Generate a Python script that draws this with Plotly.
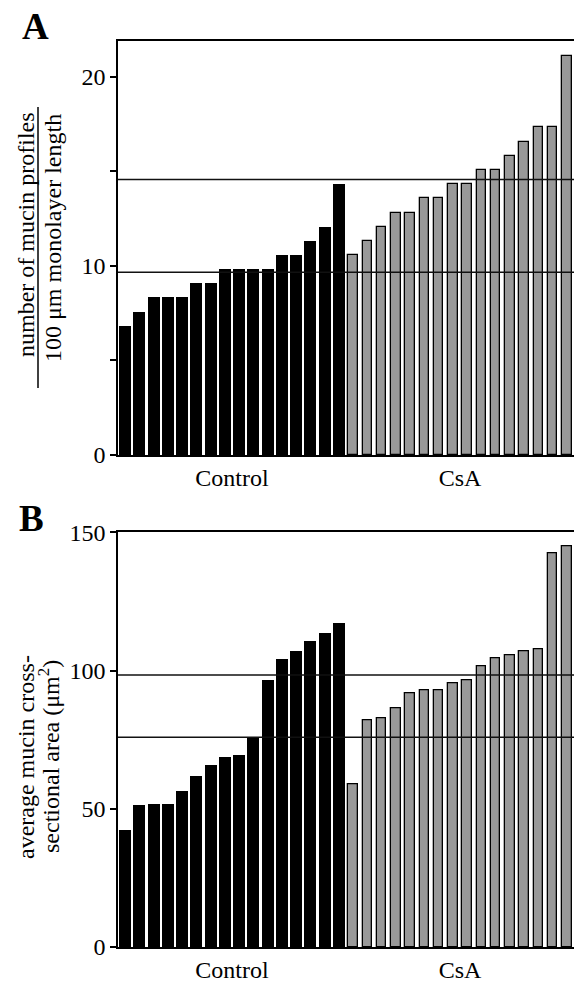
import plotly.graph_objects as go

# ---- data ----
groups = ["Control", "CsA"]

profiles_control = [6.84, 7.58, 8.34, 8.34, 8.34, 9.08, 9.08, 9.82, 9.82, 9.82, 9.82,
                    10.58, 10.58, 11.34, 12.08, 14.34]
profiles_csa = [10.58, 11.34, 12.08, 12.82, 12.82, 13.58, 13.58, 14.34, 14.34, 15.08,
                15.08, 15.84, 16.58, 17.34, 17.34, 21.13]
profiles_lines = [9.67, 14.58]

area_control = [42.2, 51.2, 51.6, 51.6, 56.3, 61.7, 65.7, 68.7, 69.5, 75.9, 96.6,
                103.9, 107.0, 110.5, 113.5, 117.1]
area_csa = [58.7, 81.9, 82.6, 86.5, 91.8, 93.0, 93.0, 95.5, 96.4, 101.6, 104.6,
            105.4, 107.0, 107.6, 142.4, 144.8]
area_lines = [75.9, 98.4]

profiles_ticks = [0, 10, 20]
profiles_minor_ticks = [5, 15]
area_ticks = [0, 50, 100, 150]

# ---- styling ----
FONT = "Liberation Serif"
BLACK = "#000000"
GRAY = "#999999"
W, H = 574, 983
ML, MR, MT, MB = 118, 0, 41, 36
PW, PH = W - ML - MR, H - MT - MB


def px_x(p):
    return (p - ML) / PW


def px_y(p):
    return (H - MB - p) / PH


nc = len(profiles_control)
x_ctrl = list(range(nc))
x_csa = list(range(nc, nc + len(profiles_csa)))
centers = [(nc - 1) / 2, nc + (len(profiles_csa) - 1) / 2]

fig = go.Figure()

for vals_c, vals_t, xa, ya in [(profiles_control, profiles_csa, "x", "y"),
                               (area_control, area_csa, "x2", "y2")]:
    fig.add_trace(go.Bar(x=x_ctrl, y=vals_c, width=0.84, xaxis=xa, yaxis=ya,
                         marker=dict(color=BLACK, line=dict(width=0)),
                         showlegend=False, hoverinfo="y"))
    fig.add_trace(go.Bar(x=x_csa, y=vals_t, width=0.68, xaxis=xa, yaxis=ya,
                         marker=dict(color=GRAY, line=dict(color=BLACK, width=1.3)),
                         showlegend=False, hoverinfo="y"))

xcommon = dict(range=[-0.5, nc + len(profiles_csa) - 0.5], showline=True, mirror=True,
               linecolor=BLACK, linewidth=1.5, ticks="", tickvals=centers,
               ticktext=groups, showgrid=False, zeroline=False,
               tickfont=dict(family=FONT, size=24, color=BLACK))
ycommon = dict(showline=True, linecolor=BLACK, linewidth=1.5, ticks="outside",
               ticklen=6, tickwidth=1.5, tickcolor=BLACK, showgrid=False,
               zeroline=False, tickfont=dict(family=FONT, size=24, color=BLACK))

dom_a = [px_y(455), 1.0]
dom_b = [0.0, px_y(532.3)]

fig.update_layout(
    width=W, height=H,
    margin=dict(l=ML, r=MR, t=MT, b=MB),
    paper_bgcolor="white", plot_bgcolor="white",
    bargap=0,
    xaxis=dict(domain=[0, 1], anchor="y", **xcommon),
    yaxis=dict(domain=dom_a, anchor="x", range=[0, 21.9], tickvals=profiles_ticks,
               minor=dict(tickvals=profiles_minor_ticks, ticks="outside", ticklen=6,
                          tickwidth=1.5, tickcolor=BLACK, showgrid=False),
               **ycommon),
    xaxis2=dict(domain=[0, 1], anchor="y2", **xcommon),
    yaxis2=dict(domain=dom_b, anchor="x2", range=[0, 150], tickvals=area_ticks,
                **ycommon),
)

shapes = []
for v in profiles_lines:
    shapes.append(dict(type="line", xref="x domain", yref="y", x0=0, x1=1, y0=v, y1=v,
                       line=dict(color="#111111", width=1.5)))
for v in area_lines:
    shapes.append(dict(type="line", xref="x2 domain", yref="y2", x0=0, x1=1, y0=v, y1=v,
                       line=dict(color="#111111", width=1.5)))
# fraction bar of the panel A axis title
shapes.append(dict(type="line", xref="paper", yref="paper",
                   x0=px_x(38), x1=px_x(38), y0=px_y(107), y1=px_y(388),
                   line=dict(color=BLACK, width=1.5)))
fig.update_layout(shapes=shapes)

tf = dict(family=FONT, size=24, color=BLACK)
ann = [
    dict(text="<b>A</b>", x=px_x(35), y=px_y(27), font=dict(family=FONT, size=37, color=BLACK)),
    dict(text="<b>B</b>", x=px_x(31), y=px_y(518), font=dict(family=FONT, size=37, color=BLACK)),
    dict(text="number of mucin profiles", x=px_x(26), y=px_y(235), textangle=-90, font=tf),
    dict(text="100 μm monolayer length", x=px_x(53), y=px_y(238), textangle=-90, font=tf),
    dict(text="average mucin cross-", x=px_x(26), y=px_y(757), textangle=-90, font=tf),
    dict(text="sectional area (μm<sup>2</sup>)", x=px_x(49), y=px_y(757), textangle=-90, font=tf),
]
for a in ann:
    a.update(xref="paper", yref="paper", xanchor="center", yanchor="middle",
             showarrow=False)
fig.update_layout(annotations=ann)

fig.write_html("out.html", config={"displayModeBar": False})

# remove the default page margin so the figure fills the window exactly
with open("out.html", "r", encoding="utf-8") as f:
    html = f.read()
html = html.replace("<head>", "<head><style>html,body{margin:0;padding:0;overflow:hidden;}</style>", 1)
with open("out.html", "w", encoding="utf-8") as f:
    f.write(html)
